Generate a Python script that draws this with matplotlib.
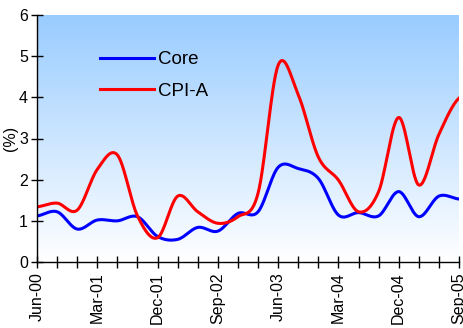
import numpy as np
import matplotlib
matplotlib.use("Agg")
import matplotlib.pyplot as plt

plt.rcParams['font.family'] = ['Liberation Sans', 'DejaVu Sans']

# Quarterly observations, Jun-00 .. Sep-05
quarters = ["Jun-00", "Sep-00", "Dec-00", "Mar-01", "Jun-01", "Sep-01",
            "Dec-01", "Mar-02", "Jun-02", "Sep-02", "Dec-02", "Mar-03",
            "Jun-03", "Sep-03", "Dec-03", "Mar-04", "Jun-04", "Sep-04",
            "Dec-04", "Mar-05", "Jun-05", "Sep-05"]
core = [1.12, 1.22, 0.80, 1.02, 1.00, 1.10, 0.62, 0.55, 0.84, 0.75, 1.18,
        1.22, 2.30, 2.27, 2.03, 1.14, 1.20, 1.12, 1.71, 1.10, 1.60, 1.53]
cpi_a = [1.34, 1.43, 1.26, 2.25, 2.60, 1.12, 0.59, 1.60, 1.22, 0.94, 1.10,
         1.67, 4.78, 4.06, 2.55, 1.99, 1.22, 1.71, 3.51, 1.87, 3.10, 3.98]
label_every = 3


def smooth(y, steps=30):
    """Catmull-Rom style smoothed line through the given points."""
    y = np.asarray(y, float)
    x = np.arange(len(y), dtype=float)
    xs, ys = [], []
    n = len(y)
    for i in range(n - 1):
        p0 = y[i - 1] if i > 0 else y[i]
        p1, p2 = y[i], y[i + 1]
        p3 = y[i + 2] if i + 2 < n else y[i + 1]
        t = np.linspace(0, 1, steps, endpoint=False)
        t2, t3 = t * t, t * t * t
        seg = 0.5 * ((2 * p1) + (-p0 + p2) * t +
                     (2 * p0 - 5 * p1 + 4 * p2 - p3) * t2 +
                     (-p0 + 3 * p1 - 3 * p2 + p3) * t3)
        xs.append(x[i] + t)
        ys.append(seg)
    xs.append([x[-1]])
    ys.append([y[-1]])
    return np.concatenate(xs), np.concatenate(ys)


W, H = 463, 328
fig = plt.figure(figsize=(W / 100, H / 100), dpi=100)
ax = fig.add_axes([37 / W, (H - 262) / H, (459 - 37) / W, (262 - 15) / H])

# vertical gradient backdrop of the plot area
top = np.array([153, 204, 255]) / 255
bot = np.array([255, 255, 255]) / 255
g = np.linspace(0, 1, 256)[:, None]
grad = (top[None, :] * (1 - g) + bot[None, :] * g)[:, None, :]
ax.imshow(grad, aspect='auto', extent=[0, len(quarters) - 1, 0, 6],
          origin='upper', zorder=0, interpolation='bilinear')

xc, yc = smooth(core)
xr, yr = smooth(cpi_a)
ax.plot(xc, yc, color='#0000FF', lw=2.2, label='Core', zorder=3)
ax.plot(xr, yr, color='#FF0000', lw=2.2, label='CPI-A', zorder=3)

ax.set_xlim(0, len(quarters) - 1)
ax.set_ylim(0, 6)
ax.set_yticks(range(0, 7))
ax.set_xticks(range(len(quarters)))
ax.set_xticklabels([q if i % label_every == 0 else "" for i, q in enumerate(quarters)],
                   rotation=90, fontsize=11.5)
ax.tick_params(axis='both', direction='inout', length=9, width=1, color='black',
               labelsize=11.5, pad=2)
ax.tick_params(axis='x', pad=3)
for s in ('top', 'right'):
    ax.spines[s].set_visible(False)
for s in ('left', 'bottom'):
    ax.spines[s].set_linewidth(1)
    ax.spines[s].set_zorder(4)
ax.set_ylabel('(%)', fontsize=11.5, labelpad=1)

leg = ax.legend(loc='upper left', bbox_to_anchor=((100 - 37) / 422, (262 - 51) / 247),
                frameon=False, fontsize=13.5, handlelength=2.9, handletextpad=0.2,
                labelspacing=0.76, borderpad=0, borderaxespad=0)

fig.savefig('out.png', dpi=100)
